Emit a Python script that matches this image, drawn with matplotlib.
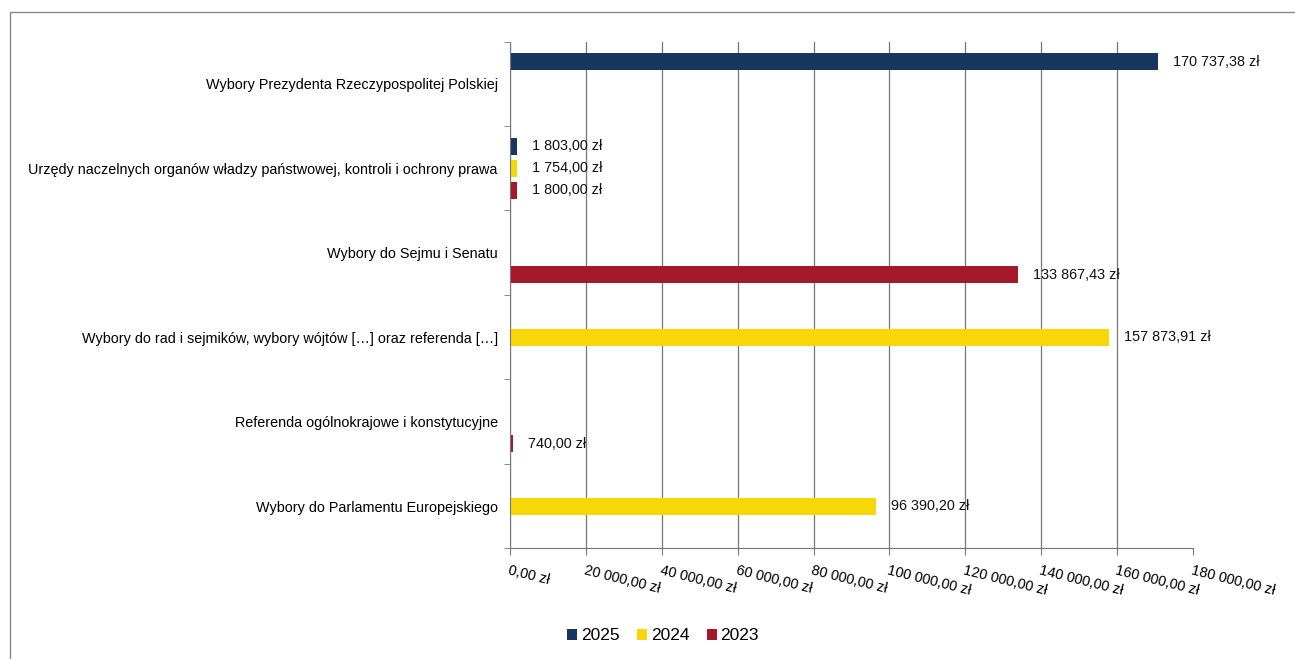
"""Wydatki na wybory i referenda w latach 2023-2025."""

import matplotlib.pyplot as plt
import numpy as np
from matplotlib.patches import Rectangle
from matplotlib.ticker import FuncFormatter

plt.rcParams["font.family"] = ["Liberation Sans", "DejaVu Sans"]

categories = [
    "Wybory Prezydenta Rzeczypospolitej Polskiej",
    "Urzędy naczelnych organów władzy państwowej, kontroli i ochrony prawa",
    "Wybory do Sejmu i Senatu",
    "Wybory do rad i sejmików, wybory wójtów […] oraz referenda […]",
    "Referenda ogólnokrajowe i konstytucyjne",
    "Wybory do Parlamentu Europejskiego",
]
years = ["2025", "2024", "2023"]
values_2025 = [170737.38, 1803.00, 0, 0, 0, 0]
values_2024 = [0, 1754.00, 0, 157873.91, 0, 96390.20]
values_2023 = [0, 1800.00, 133867.43, 0, 740.00, 0]
colors = ["#17375e", "#f7d708", "#a3192b"]


def pln(v, _pos=None):
    s = f"{v:,.2f}".replace(",", " ").replace(".", ",")
    return f"{s} zł"


fig = plt.figure(figsize=(12.95, 6.59), dpi=100)
ax = fig.add_axes([0.394, 0.168, 0.527, 0.769])

# ramka wykresu
fig.patches.append(Rectangle((10 / 1295, -0.01), 1.2, 1 - 12 / 659 + 0.01,
                             transform=fig.transFigure, fill=False,
                             edgecolor="#8a8a8a", linewidth=1))

y = np.arange(len(categories))
slot = 0.26
bar_h = 0.2
series = [values_2025, values_2024, values_2023]

for i, (year, vals, col) in enumerate(zip(years, series, colors)):
    pos = y + (i - 1) * slot
    ax.barh(pos, vals, height=bar_h, color=col, label=year)
    for p, v in zip(pos, vals):
        if v > 0:
            ax.text(v + 4000, p, pln(v), va="center", ha="left",
                    fontsize=10.4, color="#111111")

ax.set_xlim(0, 180000)
ax.set_ylim(len(categories) - 0.5, -0.5)
ax.set_xticks(np.arange(0, 180001, 20000))
ax.xaxis.set_major_formatter(FuncFormatter(pln))
for lbl in ax.get_xticklabels():
    lbl.set_rotation(-14)
    lbl.set_ha("left")
    lbl.set_va("top")
    lbl.set_rotation_mode("anchor")
    lbl.set_fontsize(10.4)

ax.set_yticks(y)
ax.set_yticklabels(categories, fontsize=10.4)
ax.tick_params(axis="y", length=0, pad=9)
ax.set_yticks(np.arange(-0.5, len(categories)), minor=True)
ax.tick_params(axis="y", which="minor", length=4, color="#777777")
ax.tick_params(axis="x", length=5, color="#777777", pad=6)

ax.grid(axis="x", color="#777777", linewidth=0.9)
ax.get_xgridlines()[-1].set_visible(False)
ax.set_axisbelow(True)
for side in ["top", "right"]:
    ax.spines[side].set_visible(False)
ax.spines["left"].set_color("#777777")
ax.spines["bottom"].set_color("#777777")

fig.legend(loc="lower center", bbox_to_anchor=(0.512, 0.0), ncol=3,
           frameon=False, fontsize=12.5, handlelength=0.6, handleheight=0.6,
           handletextpad=0.2, columnspacing=1.0)

fig.savefig("out.png", dpi=100)
